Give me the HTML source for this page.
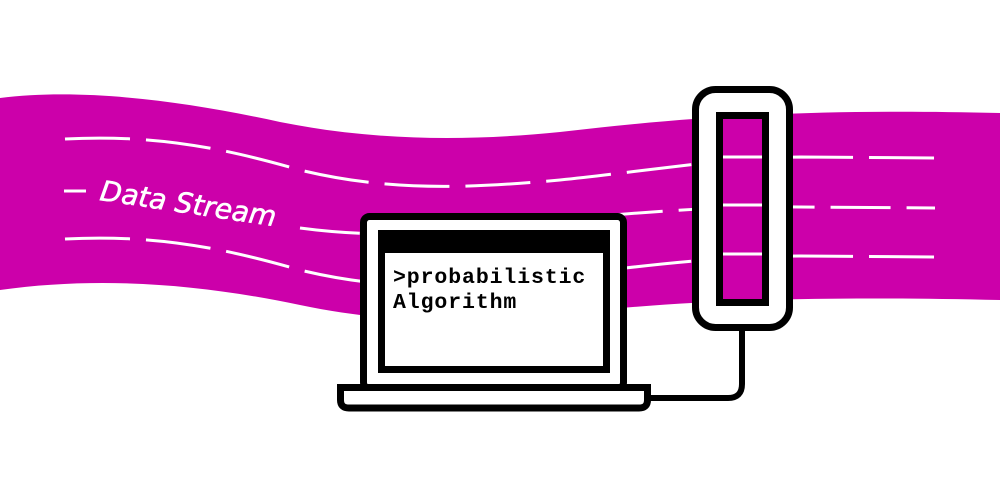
<!DOCTYPE html>
<html><head><style>html,body{margin:0;padding:0;background:#fff;width:1000px;height:498px;overflow:hidden}</style></head>
<body>
<svg width="1000" height="498" viewBox="0 0 1000 498" xmlns="http://www.w3.org/2000/svg">
<path d="M0,98 C80,88 180,100 280,122 C370,140 460,142 560,132 C680,118 800,108 1000,113 L1000,300 C820,296 700,300 600,310 C480,322 400,326 300,305 C200,284 100,276 0,290 Z" fill="#cc00aa"/>
<g fill="none" stroke="#fff" stroke-width="3" stroke-dasharray="65,16">
<path d="M65,139 C160,134 230,150 300,170 C390,192 470,188 560,180 C640,172 720,158 800,157 L935,158"/>
<path d="M300,228 C390,240 470,232 560,220 C640,212 720,206 800,207 L935,208" stroke-dasharray="60,16"/>
<path d="M65,239 C160,234 230,250 300,270 C390,292 470,288 560,276 C640,266 720,256 800,256 L935,257"/>
</g>
<line x1="64" y1="191" x2="86" y2="191" stroke="#fff" stroke-width="3"/>
<text x="0" y="0" transform="translate(99,200) rotate(8.5)" font-family="'DejaVu Sans','Liberation Sans',sans-serif" font-style="italic" font-size="28" fill="#fff" stroke="#fff" stroke-width="0.6">Data Stream</text>
<!-- laptop -->
<rect x="363.5" y="216.5" width="260" height="172" rx="6" fill="#fff" stroke="#000" stroke-width="7"/>
<rect x="381.5" y="233.5" width="225" height="136" fill="#fff" stroke="#000" stroke-width="7"/>
<rect x="378" y="230" width="232" height="23" fill="#000"/>
<text x="393" y="283" font-family="'Liberation Mono',monospace" font-weight="bold" font-size="21.5" fill="#000" letter-spacing="0.9">&gt;probabilistic</text>
<text x="393" y="308" font-family="'Liberation Mono',monospace" font-weight="bold" font-size="21.5" fill="#000" letter-spacing="0.9">Algorithm</text>
<path d="M340.5,387.5 L647.5,387.5 L647.5,400 Q647.5,408 639,408 L349,408 Q340.5,408 340.5,400 Z" fill="#fff" stroke="#000" stroke-width="7"/>
<!-- cable -->
<path d="M648,398 L728,398 Q742,398 742,384 L742,328" fill="none" stroke="#000" stroke-width="6"/>
<!-- device -->
<rect x="695.5" y="89.5" width="94" height="238" rx="20" fill="#fff" stroke="#000" stroke-width="7"/>
<rect x="719.5" y="115.5" width="46" height="187" fill="#cc00aa" stroke="#000" stroke-width="7"/>
<g stroke="#fff" stroke-width="3"><line x1="723" y1="157" x2="762" y2="157"/><line x1="723" y1="205" x2="762" y2="205"/><line x1="723" y1="254" x2="762" y2="254"/></g>
</svg>
</body></html>
